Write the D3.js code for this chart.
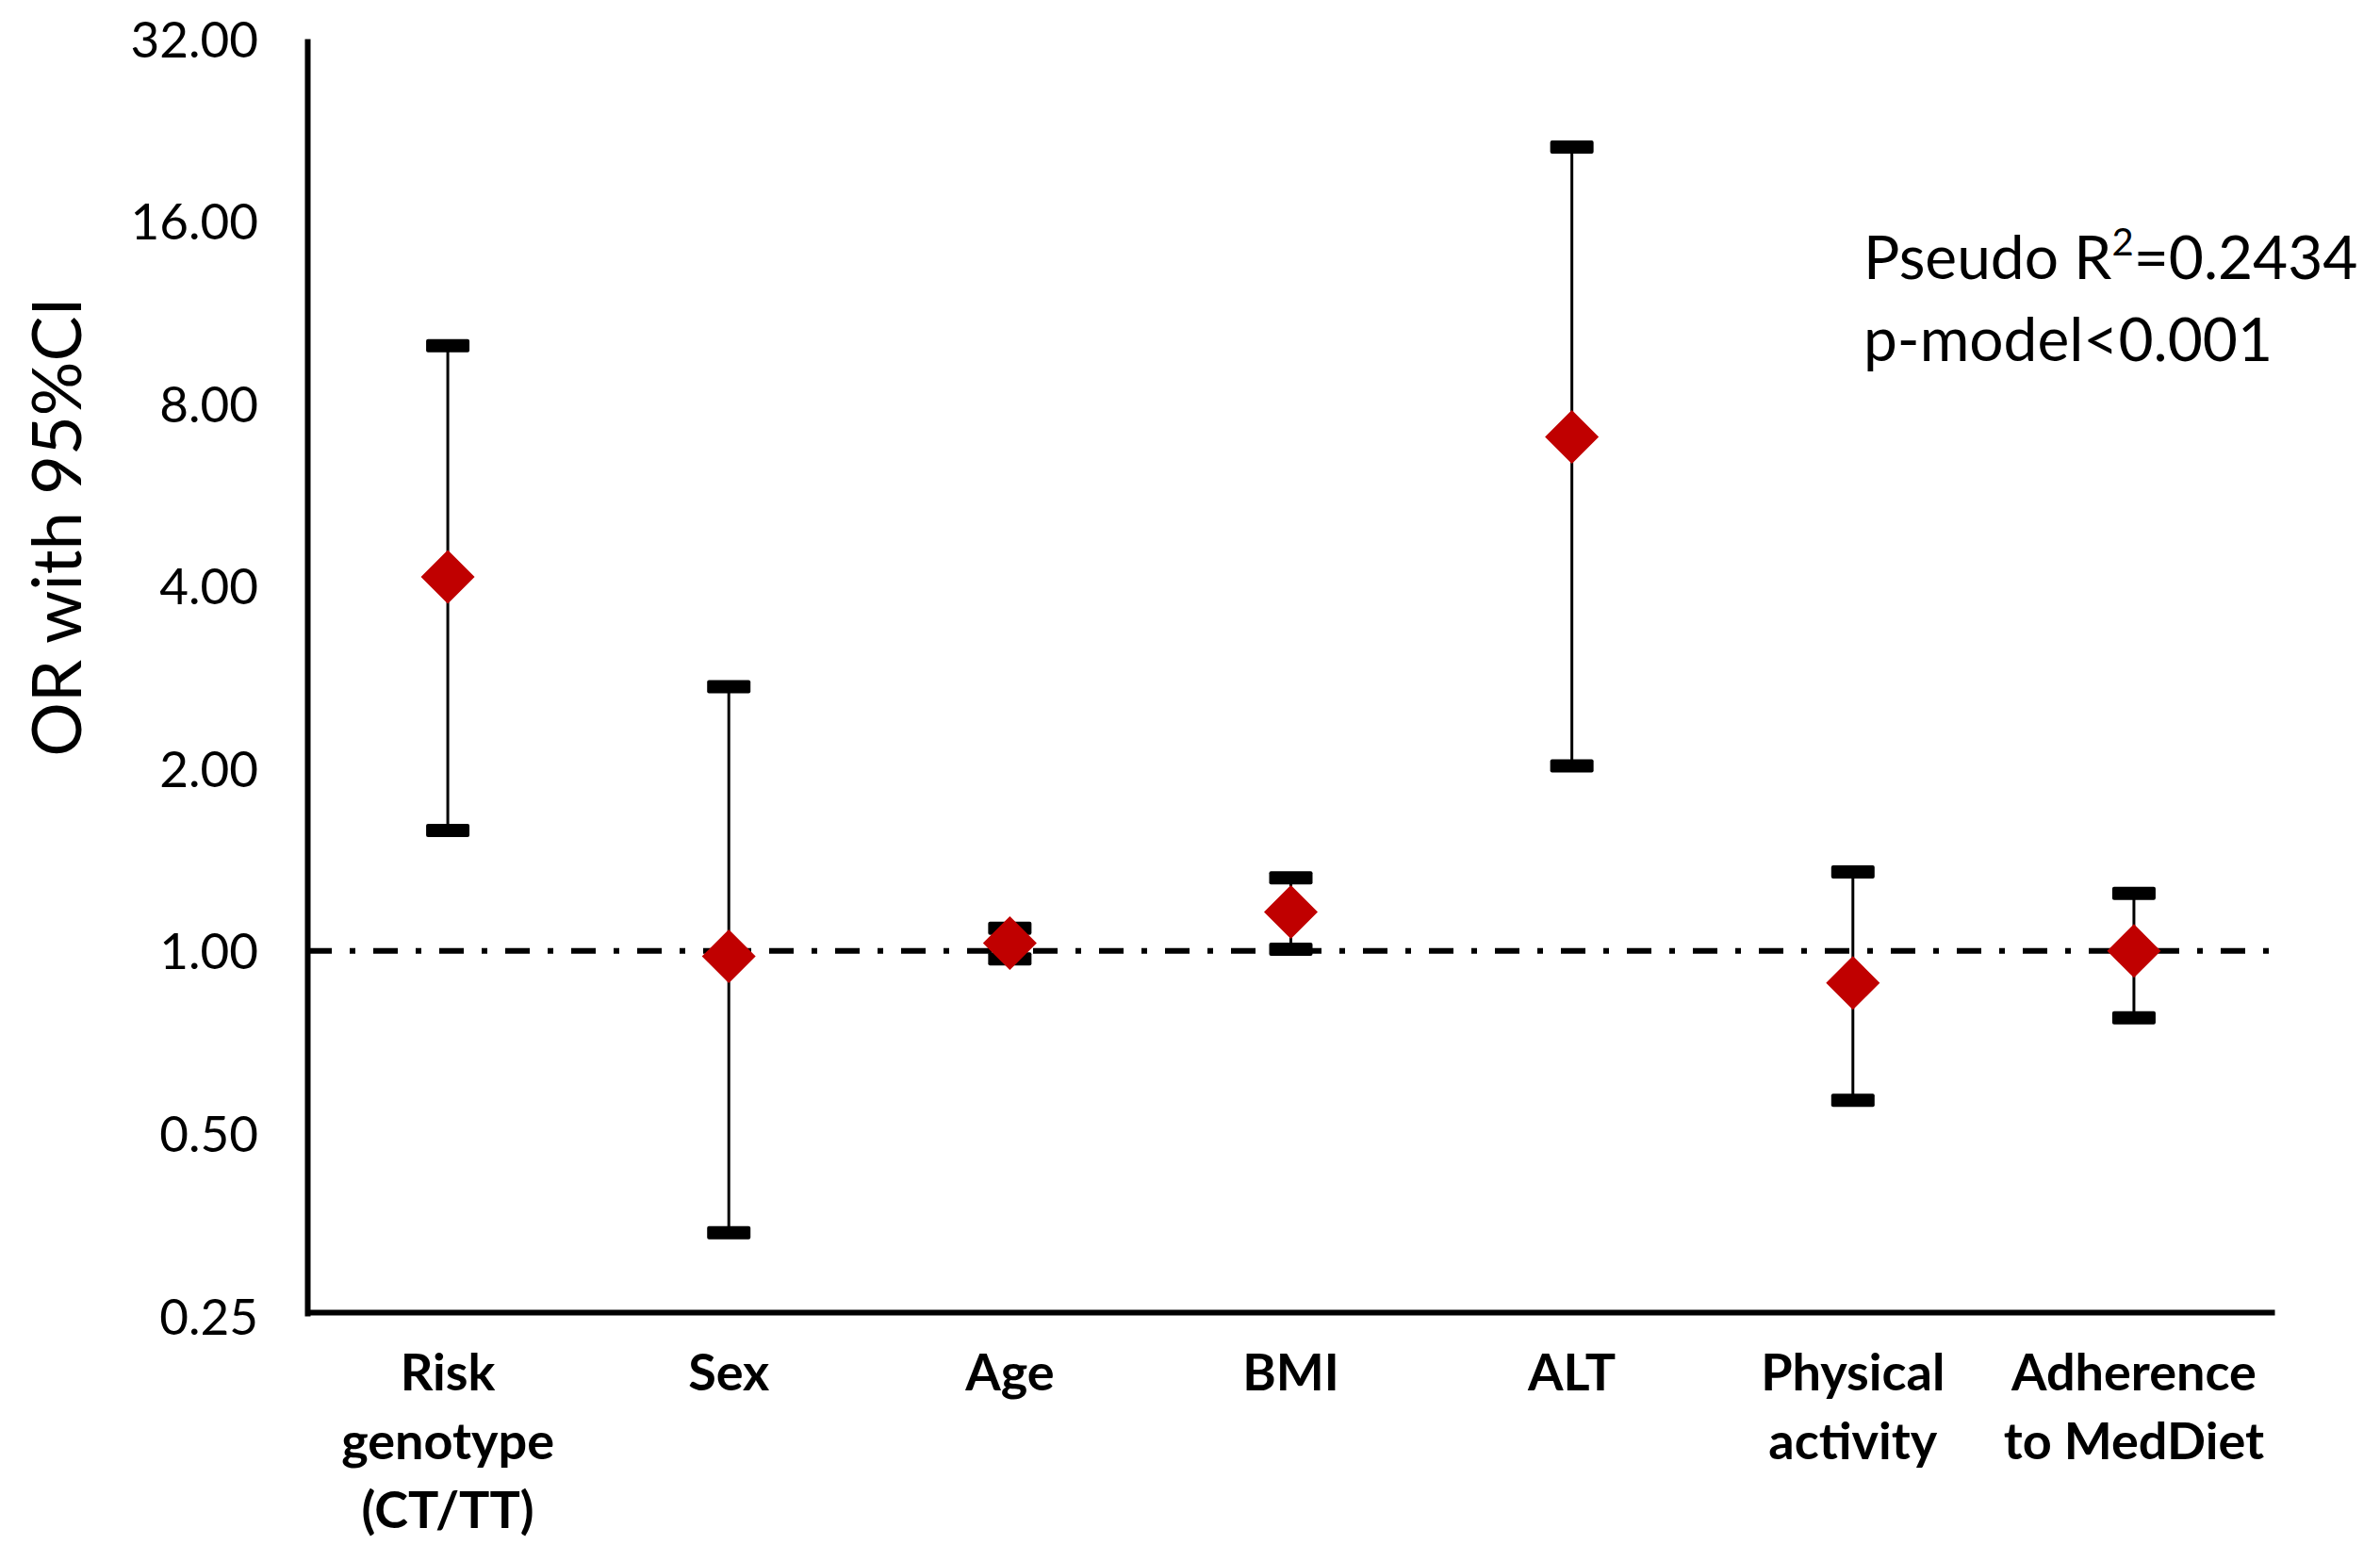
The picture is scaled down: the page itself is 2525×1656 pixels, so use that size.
<!DOCTYPE html>
<html>
<head>
<meta charset="utf-8">
<script src="https://cdn.jsdelivr.net/npm/d3@7"></script>
<style>
  body { margin: 0; background: #fff; }
  text { font-family: Lato, "Open Sans", sans-serif; fill: #000; }
</style>
</head>
<body>
<div id="chart"></div>
<script>
// Chart data
var categories = ["Risk genotype (CT/TT)", "Sex", "Age", "BMI", "ALT", "Physical activity", "Adherence to MedDiet"];
var labelLines = [["Risk", "genotype", "(CT/TT)"], ["Sex"], ["Age"], ["BMI"], ["ALT"], ["Physical", "activity"], ["Adherence", "to MedDiet"]];
var oddsRatio = [4.14, 0.98, 1.03, 1.16, 7.05, 0.886, 1.00];
var ciLower = [1.58, 0.343, 0.97, 1.007, 2.02, 0.567, 0.776];
var ciUpper = [9.97, 2.73, 1.09, 1.32, 21.2, 1.35, 1.245];
var yTicks = [0.25, 0.5, 1, 2, 4, 8, 16, 32];
var refValue = 1;
var noteLines = ["Pseudo R", "p-model<0.001"];

// SVG area
var svgWidth = 2525;
var svgHeight = 1656;

var plot = { left: 326, right: 2413, top: 41, bottom: 1396 };

var svg = d3.select("#chart")
  .append("svg")
  .attr("width", svgWidth)
  .attr("height", svgHeight);

var rows = categories.map(function(c, i) {
  return { name: c, lines: labelLines[i], or: oddsRatio[i], lo: ciLower[i], hi: ciUpper[i] };
});

// Scales
var xScale = d3.scaleBand()
  .domain(categories)
  .range([plot.left, plot.right])
  .padding(0);

var yScale = d3.scaleLog()
  .base(2)
  .domain([0.25, 32])
  .range([plot.bottom, plot.top]);

// Axes
var leftAxis = d3.axisLeft(yScale)
  .tickValues(yTicks)
  .tickFormat(d3.format(".2f"))
  .tickSize(0)
  .tickPadding(52);

var yAxisG = svg.append("g")
  .attr("transform", `translate(${plot.left}, 0)`)
  .call(leftAxis);
yAxisG.select(".domain").attr("stroke", "#000").attr("stroke-width", 6);
yAxisG.selectAll("text")
  .style("font-size", "53px")
  .attr("dy", "0.36em");

var bottomAxis = d3.axisBottom(xScale)
  .tickSize(0)
  .tickFormat("");

var xAxisG = svg.append("g")
  .attr("transform", `translate(0, ${plot.bottom - 4})`)
  .call(bottomAxis);
xAxisG.select(".domain").attr("stroke", "#000").attr("stroke-width", 6);

// Category labels, several lines each
svg.append("g").selectAll("text")
  .data(rows)
  .enter().append("text")
    .attr("text-anchor", "middle")
    .style("font-size", "54px")
    .style("font-weight", "bold")
    .each(function(d) {
      var cx = xScale(d.name) + xScale.bandwidth() / 2;
      d3.select(this).selectAll("tspan")
        .data(d.lines)
        .enter().append("tspan")
          .attr("x", cx)
          .attr("y", function(l, j) { return 1475 + j * 73; })
          .text(function(l) { return l; });
    });

// Y axis title
svg.append("text")
  .attr("transform", "translate(86, 559) rotate(-90)")
  .attr("text-anchor", "middle")
  .style("font-size", "72px")
  .text("OR with 95%CI");

// Reference line at OR = 1
svg.append("line")
  .attr("x1", plot.left)
  .attr("x2", plot.right)
  .attr("y1", yScale(refValue))
  .attr("y2", yScale(refValue))
  .attr("stroke", "#000")
  .attr("stroke-width", 6)
  .attr("stroke-dasharray", "26,19,6,19");

// Error bars
var bars = svg.append("g").selectAll("g")
  .data(rows)
  .enter().append("g")
    .attr("transform", d => `translate(${xScale(d.name) + xScale.bandwidth() / 2}, 0)`);

bars.append("line")
  .attr("y1", d => yScale(d.lo))
  .attr("y2", d => yScale(d.hi))
  .attr("stroke", "#000")
  .attr("stroke-width", 3);

bars.selectAll("rect")
  .data(d => [d.lo, d.hi])
  .enter().append("rect")
    .attr("x", -23)
    .attr("width", 46)
    .attr("y", v => yScale(v) - 7)
    .attr("height", 14)
    .attr("rx", 2)
    .attr("fill", "#000");

// Point estimates as red diamonds
var diamond = d3.symbol().type(d3.symbolSquare).size(1625);
svg.append("g").selectAll("path")
  .data(rows)
  .enter().append("path")
    .attr("d", diamond)
    .attr("transform", d => `translate(${xScale(d.name) + xScale.bandwidth() / 2}, ${yScale(d.or)}) rotate(45)`)
    .attr("fill", "#C00000");

// Model note
var note = svg.append("g").style("font-size", "64px");
var line1 = note.append("text").attr("x", 1977).attr("y", 296);
line1.append("tspan").text(noteLines[0]);
line1.append("tspan").attr("dy", -25).style("font-size", "40px").text("2");
line1.append("tspan").attr("dy", 25).text("=0.2434");
note.append("text").attr("x", 1977).attr("y", 383).text(noteLines[1]);
</script>
</body>
</html>
